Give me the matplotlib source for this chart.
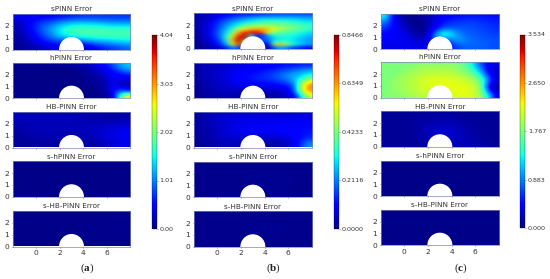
import matplotlib
matplotlib.use("Agg")
import matplotlib.pyplot as plt
import numpy as np
from matplotlib.patches import Circle

plt.rcParams["mathtext.fontset"] = "custom"
plt.rcParams["mathtext.bf"] = "Liberation Serif:bold"
plt.rcParams["mathtext.rm"] = "Liberation Serif"

W, H = 550, 279

TITLES = ["sPINN Error", "hPINN Error", "HB-PINN Error", "s-hPINN Error", "s-HB-PINN Error"]
CAPTIONS = ["a", "b", "c"]
X_TICKS = [0, 2, 4, 6]
Y_TICKS = [0, 1, 2]

# error fields, as a share of each colorbar maximum, rows from y=3 down to y=0
A_MAX = 4.04
A_TICKS = ["0.00", "1.01", "2.02", "3.03", "4.04"]
A_S = [
    [.10, .10, .11, .12, .13, .15, .17, .17, .17, .17, .17],
    [.04, .12, .18, .22, .28, .33, .33, .32, .30, .28, .28],
    [.04, .10, .20, .28, .38, .43, .44, .44, .43, .42, .42],
    [.03, .08, .17, .25, .36, .42, .44, .44, .44, .44, .44],
    [.02, .06, .12, .18, .20, .20, .25, .30, .32, .34, .36],
    [.02, .03, .05, .08, .10, .10, .04, .10, .15, .18, .22],
]
A_H = [
    [.02, .02, .02, .02, .02, .02, .02, .03, .04, .05, .07, .10, .13, .20, .28, .33],
    [.01, .01, .01, .01, .01, .01, .01, .01, .02, .03, .05, .08, .11, .16, .24, .30],
    [.01, .01, .01, .01, .01, .01, .01, .01, .01, .02, .03, .05, .08, .11, .14, .18],
    [.01, .01, .01, .01, .01, .01, .01, .01, .01, .01, .02, .03, .05, .12, .09, .10],
    [.01, .01, .01, .01, .01, .01, .01, .01, .01, .01, .02, .03, .05, .10, .06, .05],
    [.01, .01, .01, .01, .01, .01, .01, .01, .01, .01, .01, .02, .04, .10, .10, .05],
    [.01, .01, .01, .01, .01, .01, .01, .01, .01, .01, .01, .01, .03, .10, .24, .18],
    [.01, .01, .01, .01, .01, .01, .01, .01, .01, .01, .01, .01, .02, .06, .40, .66],
]
A_HB = [
    [.05, .05, .05, .05, .05, .04, .04, .03, .03, .03, .03],
    [.05, .05, .05, .05, .05, .05, .05, .04, .04, .04, .05],
    [.04, .05, .05, .05, .05, .05, .05, .06, .06, .07, .08],
    [.03, .04, .05, .05, .05, .05, .05, .06, .08, .09, .11],
    [.02, .03, .04, .04, .04, .04, .04, .05, .07, .09, .10],
    [.02, .02, .03, .03, .03, .03, .03, .03, .05, .08, .10],
]
A_SH = [[.01, .01, .01], [.01, .01, .01]]
A_SHB = [[.01, .01, .012], [.01, .012, .015]]

B_MAX = 0.8466
B_TICKS = ["0.0000", "0.2116", "0.4233", "0.6349", "0.8466"]
B_S = [
    [.04, .05, .06, .08, .10, .12, .13, .14, .15, .16, .17, .18, .19, .20, .20, .20, .20, .20, .20, .20],
    [.04, .05, .07, .10, .13, .16, .19, .22, .24, .26, .28, .29, .30, .30, .30, .30, .30, .29, .28, .28],
    [.04, .05, .08, .12, .17, .21, .25, .28, .31, .34, .36, .38, .39, .39, .39, .38, .37, .36, .34, .33],
    [.04, .05, .09, .14, .20, .25, .30, .35, .39, .42, .44, .46, .47, .47, .46, .45, .43, .42, .39, .38],
    [.04, .06, .10, .15, .22, .28, .35, .43, .50, .54, .56, .57, .56, .54, .52, .50, .48, .46, .43, .41],
    [.04, .06, .10, .16, .24, .32, .42, .56, .66, .72, .74, .74, .70, .62, .56, .52, .49, .46, .43, .40],
    [.03, .06, .10, .17, .25, .35, .50, .72, .88, .92, .90, .82, .62, .50, .46, .44, .42, .40, .37, .35],
    [.03, .05, .10, .16, .25, .38, .60, .85, .96, .45, .15, .15, .30, .38, .40, .40, .38, .36, .33, .31],
    [.03, .05, .09, .15, .24, .40, .70, .96, .85, .20, .20, .20, .25, .33, .36, .37, .36, .33, .31, .28],
    [.02, .04, .07, .12, .20, .36, .70, .95, .60, .20, .20, .20, .20, .38, .42, .40, .36, .33, .30, .28],
    [.02, .03, .06, .10, .16, .30, .60, .85, .30, .10, .10, .10, .10, .55, .72, .55, .42, .34, .30, .27],
    [.02, .02, .03, .05, .08, .15, .25, .20, .05, .05, .05, .05, .05, .20, .30, .25, .20, .16, .14, .12],
]
B_H = [
    [.04, .05, .05, .06, .07, .08, .09, .10, .10, .11, .11, .12, .13, .13, .14, .15],
    [.04, .05, .06, .07, .08, .09, .10, .11, .12, .13, .14, .16, .18, .20, .22, .24],
    [.03, .05, .06, .07, .09, .10, .12, .13, .14, .16, .18, .21, .25, .28, .31, .35],
    [.03, .05, .06, .07, .09, .11, .12, .14, .16, .17, .19, .22, .26, .31, .36, .45],
    [.03, .04, .05, .07, .08, .10, .12, .13, .14, .14, .15, .17, .20, .28, .50, .70],
    [.02, .04, .05, .06, .07, .08, .09, .09, .09, .09, .10, .11, .12, .22, .60, .78],
    [.02, .03, .04, .05, .06, .06, .05, .05, .05, .05, .05, .06, .08, .20, .58, .75],
    [.02, .03, .04, .04, .04, .04, .03, .03, .03, .03, .04, .04, .06, .12, .35, .60],
]
B_HB = [
    [.03, .05, .06, .07, .07, .07, .07, .07, .07, .07, .07],
    [.03, .05, .07, .08, .09, .09, .09, .09, .09, .10, .10],
    [.03, .05, .07, .09, .10, .11, .11, .11, .12, .12, .13],
    [.03, .04, .07, .09, .10, .11, .11, .11, .12, .13, .14],
    [.02, .04, .06, .07, .08, .07, .06, .07, .08, .11, .16],
    [.02, .03, .04, .05, .05, .04, .03, .03, .05, .10, .28],
]
B_SH = [[.012, .012, .012, .012], [.012, .014, .025, .014], [.012, .014, .018, .012]]
B_SHB = [[.012, .012, .012, .012], [.012, .014, .022, .014], [.012, .014, .016, .012]]

C_MAX = 3.534
C_TICKS = ["0.000", "0.883", "1.767", "2.650", "3.534"]
C_S = [
    [.40, .15, .04, .02, .02, .03, .05, .08, .10, .12, .13, .14, .14, .14, .14, .13],
    [.30, .14, .06, .02, .01, .02, .05, .09, .13, .15, .16, .17, .17, .16, .15, .15],
    [.22, .14, .08, .04, .01, .01, .05, .11, .16, .18, .19, .19, .19, .18, .17, .16],
    [.17, .13, .09, .06, .02, .01, .05, .14, .22, .22, .21, .21, .20, .19, .18, .17],
    [.13, .12, .10, .08, .04, .02, .08, .28, .42, .35, .25, .22, .21, .20, .19, .18],
    [.11, .11, .10, .09, .07, .04, .10, .30, .30, .30, .28, .24, .22, .21, .20, .20],
    [.10, .10, .10, .10, .09, .07, .10, .15, .15, .20, .26, .24, .23, .22, .21, .20],
    [.09, .09, .10, .10, .10, .09, .10, .10, .10, .15, .20, .22, .22, .22, .21, .20],
]
C_H = [
    [.50, .50, .50, .50, .51, .52, .52, .52, .52, .52, .50, .45, .33, .20, .10, .10],
    [.50, .50, .50, .52, .53, .55, .55, .55, .55, .54, .52, .48, .38, .24, .09, .07],
    [.50, .50, .52, .54, .55, .57, .58, .58, .58, .57, .55, .52, .45, .32, .12, .06],
    [.50, .51, .53, .55, .57, .59, .60, .61, .61, .60, .59, .57, .52, .42, .20, .07],
    [.50, .52, .54, .56, .58, .60, .62, .63, .63, .63, .62, .60, .56, .48, .20, .05],
    [.50, .52, .54, .56, .58, .60, .62, .63, .63, .63, .63, .62, .60, .50, .08, .02],
    [.50, .52, .53, .55, .57, .59, .60, .60, .60, .62, .63, .63, .60, .52, .20, .05],
    [.50, .51, .52, .54, .55, .57, .58, .58, .58, .60, .62, .62, .60, .54, .35, .10],
]
C_HB = [
    [.02, .02, .02, .02, .03, .03, .03, .02, .02, .02, .02],
    [.02, .02, .02, .03, .03, .04, .04, .03, .02, .02, .02],
    [.02, .02, .02, .03, .05, .06, .06, .04, .03, .02, .02],
    [.02, .02, .02, .03, .06, .08, .07, .05, .03, .02, .02],
    [.02, .02, .02, .03, .05, .06, .07, .05, .04, .03, .02],
    [.02, .02, .02, .03, .04, .04, .05, .05, .04, .03, .02],
]
C_SH = [[.01, .01, .01], [.01, .012, .01]]
C_SHB = [[.01, .01, .01], [.01, .012, .01]]

# pixel layout of the three columns: left, right, row tops, colorbar box
COLUMNS = [
    dict(fields=[A_S, A_H, A_HB, A_SH, A_SHB], vmax=A_MAX, ticks=A_TICKS, x0=12.7, x1=130.3,
         tops=[14, 62.7, 112, 161.3, 211], cbar=(152, 156.8, 35, 229), cap_x=87.5),
    dict(fields=[B_S, B_H, B_HB, B_SH, B_SHB], vmax=B_MAX, ticks=B_TICKS, x0=193.7, x1=312,
         tops=[13.3, 62.7, 112, 161.7, 211.3], cbar=(334, 339, 34.5, 229), cap_x=274),
    dict(fields=[C_S, C_H, C_HB, C_SH, C_SHB], vmax=C_MAX, ticks=C_TICKS, x0=380.7, x1=499,
         tops=[13.5, 62.2, 111.3, 160.7, 209.7], cbar=(520, 525, 34.5, 228), cap_x=461),
]
ROW_H = 35.5
EDGE = "#7f86b8"
TEXT = "#333333"


def px_axes(fig, x0, x1, top, bottom):
    return fig.add_axes([x0 / W, 1 - bottom / H, (x1 - x0) / W, (bottom - top) / H])


def draw_column(fig, col):
    image = None
    for i, (title, field) in enumerate(zip(TITLES, col["fields"])):
        top = col["tops"][i]
        ax = px_axes(fig, col["x0"], col["x1"], top, top + ROW_H)
        values = np.array(field) * col["vmax"]
        image = ax.imshow(values, cmap="jet", vmin=0, vmax=col["vmax"], extent=(-2, 8, 0, 3),
                          aspect="auto", interpolation="bicubic")
        ax.add_patch(Circle((3, 0), 1, color="white", zorder=3))
        ax.set_xlim(-2, 8)
        ax.set_ylim(0, 3)
        ax.set_title(title, fontsize=5.2, color=TEXT, pad=2)
        ax.set_yticks(Y_TICKS)
        ax.set_xticks(X_TICKS)
        if i < len(TITLES) - 1:
            ax.tick_params(axis="x", labelbottom=False, length=0)
        ax.tick_params(labelsize=5.4, length=1, width=0.4, pad=1.5, colors=TEXT)
        for spine in ax.spines.values():
            spine.set_color(EDGE)
            spine.set_linewidth(0.5)

    x0, x1, top, bottom = col["cbar"]
    cax = px_axes(fig, x0, x1, top, bottom)
    cb = fig.colorbar(image, cax=cax)
    cb.set_ticks(np.linspace(0, col["vmax"], 5), labels=col["ticks"])
    cb.ax.tick_params(labelsize=4.6, length=1, width=0.4, pad=1, colors=TEXT)
    cb.outline.set_linewidth(0.2)


def main():
    fig = plt.figure(figsize=(W / 100, H / 100), dpi=100)
    for col, caption in zip(COLUMNS, CAPTIONS):
        draw_column(fig, col)
        fig.text(col["cap_x"] / W, 1 - 268 / H, "(" + r"$\mathbf{" + caption + "}$" + ")",
                 family="Liberation Serif", fontsize=8, color="#222222", ha="center", va="center")
    fig.savefig("out.png", dpi=100)


if __name__ == "__main__":
    main()
